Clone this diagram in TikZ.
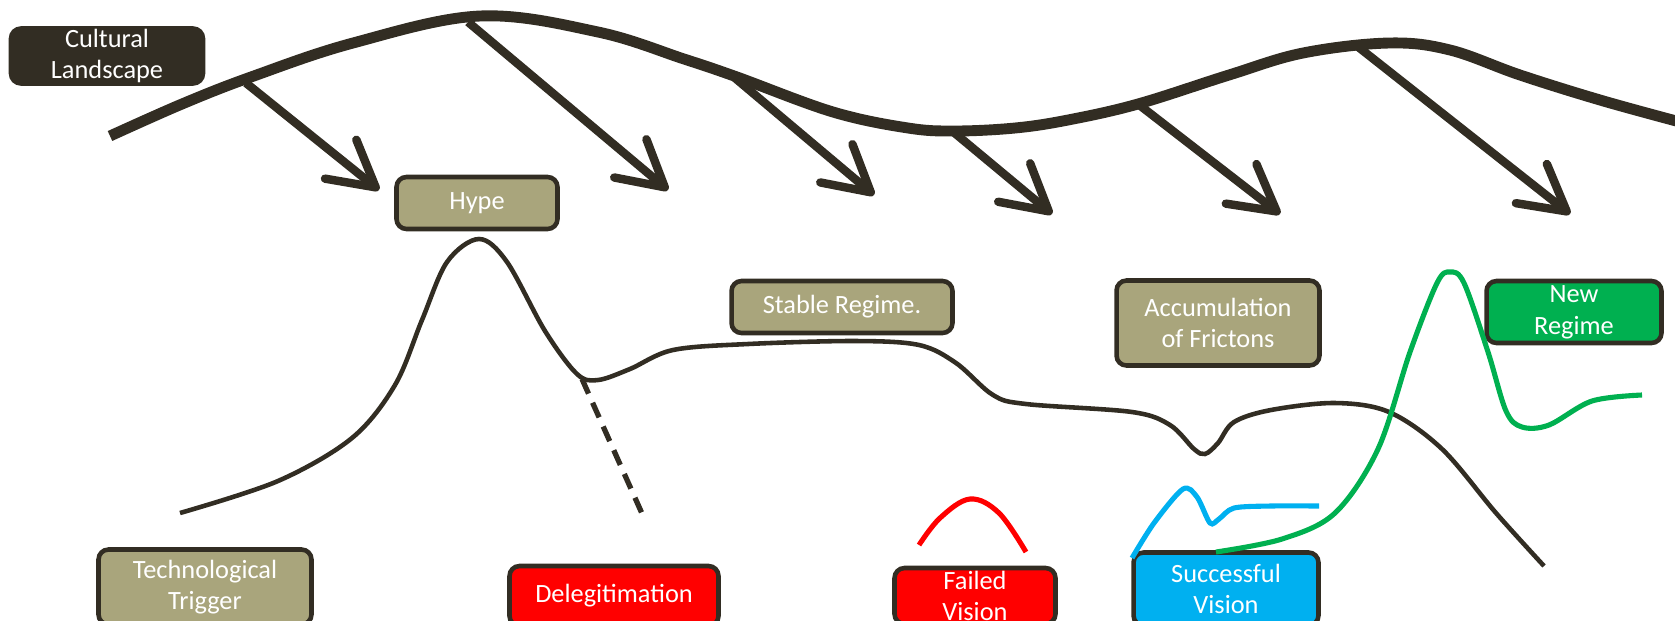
\documentclass[tikz,border=0pt]{standalone}
\usepackage{fontspec}
\setmainfont{Carlito}
\usepackage{xcolor}
\usepackage{tikz}
\usetikzlibrary{arrows.meta}
\usetikzlibrary{positioning}

\definecolor{dark}{RGB}{50,45,35}
\definecolor{olive}{RGB}{169,165,124}
\definecolor{vred}{RGB}{255,0,0}
\definecolor{vblue}{RGB}{0,176,240}
\definecolor{vgreen}{RGB}{0,176,80}

\begin{document}
\begin{tikzpicture}[x=0.02cm,y=-0.02cm,font=\fontsize{15}{18}\selectfont]
 \tikzstyle{phase}=[draw=dark, line width=2.6pt, rounded corners=0.2cm, fill=olive, text=white, align=center, inner sep=0pt]
 \tikzstyle{push}=[draw=dark, line width=4.8pt, -{Straight Barb[length=0.9cm,width=1.0cm,round]}]
 \tikzstyle{hypeline}=[draw=dark, line width=2.6pt]
 \tikzstyle{vision}=[line width=2.9pt]
				\useasboundingbox (0,0) rectangle (1675,620);
				\clip (0,0) rectangle (1675,620);

				% boxes
				\node[phase, fill=dark, minimum width=3.84cm, minimum height=1.1cm] (land) at (107,56) {Cultural\\Landscape};
				\node[phase, minimum width=3.22cm, minimum height=1.04cm] (hype) at (477,203) {Hype};
				\node[phase, minimum width=4.42cm, minimum height=1.04cm] (stable) at (842,307) {Stable Regime.};
				\node[phase, minimum width=4.06cm, minimum height=1.7cm] (frict) at (1218,323) {Accumulation\\of Frictons};
				\node[phase, fill=vgreen, minimum width=3.5cm, minimum height=1.24cm] (newreg) at (1574,312) {New\\Regime};
				\node[phase, minimum width=4.26cm, minimum height=1.5cm] (trigger) at (205,587) {Technological\\Trigger};
				\node[phase, fill=vred, minimum width=4.18cm, minimum height=1.2cm] (deleg) at (614,596) {Delegitimation};
				\node[phase, fill=vred, minimum width=3.22cm, minimum height=1.12cm] (failed) at (975,596) {Failed\\Vision};
				\node[phase, fill=vblue, minimum width=3.7cm, minimum height=1.46cm] (success) at (1226,589) {Successful\\Vision};

				% landscape pressure
				\coordinate (s1) at (246,83);   \coordinate (t1) at (379,190);
				\coordinate (s2) at (468,22);   \coordinate (t2) at (668,190);
				\coordinate (s3) at (735,78);   \coordinate (t3) at (874,195);
				\coordinate (s4) at (951,130);  \coordinate (t4) at (1052,214);
				\coordinate (s5) at (1138,104); \coordinate (t5) at (1280,214);
				\coordinate (s6) at (1357,46);  \coordinate (t6) at (1570,214);
				\foreach \i in {1,...,6}
					\draw[push] (s\i) -- (t\i);
				\draw[dark, line width=6.2pt] plot[smooth, tension=0.6] coordinates {(110,136) (182,104) (251,77) (353,43) (480,16) (598,32) (684,59) (737,77) (833,112) (908,128) (955,131) (1015,128) (1068,120) (1138,104) (1229,75) (1303,53) (1389,43) (1450,50) (1520,75) (1600,100) (1680,122)};

				% hype curve
				\draw[hypeline] plot[smooth, tension=0.55] coordinates {(180,513) (278,481) (352,438) (395,385) (422,320) (447,262) (479,239) (507,262) (545,331) (577,374) (598,380) (630,369) (673,350) (748,344) (855,341) (919,345) (956,363) (993,395) (1026,404) (1132,412) (1170,425) (1194,449) (1205,454) (1218,443) (1234,422) (1271,410) (1335,403) (1389,412) (1442,449) (1496,513) (1544,566)};
				\coordinate (d0) at (582,379);
				\coordinate (d1) at (644,518);
				\draw[hypeline, line width=3pt, dash pattern=on 0.32cm off 0.2cm] (d0) -- (d1);

				% visions
				\draw[vision, vred] plot[smooth, tension=0.6] coordinates {(919,545) (940,518) (970,499) (999,513) (1026,552)};
				\draw[vision, vblue] plot[smooth, tension=0.5] coordinates {(1132,558) (1154,523) (1183,489) (1197,497) (1210,523) (1219,519) (1234,508) (1271,506) (1319,506)};
				\draw[vision, vgreen] plot[smooth, tension=0.55] coordinates {(1216,552) (1282,539) (1335,513) (1378,449) (1410,352) (1437,283) (1450,272) (1464,283) (1488,352) (1506,411) (1522,427) (1549,425) (1592,401) (1642,395)};
 				\end{tikzpicture}
\end{document}
